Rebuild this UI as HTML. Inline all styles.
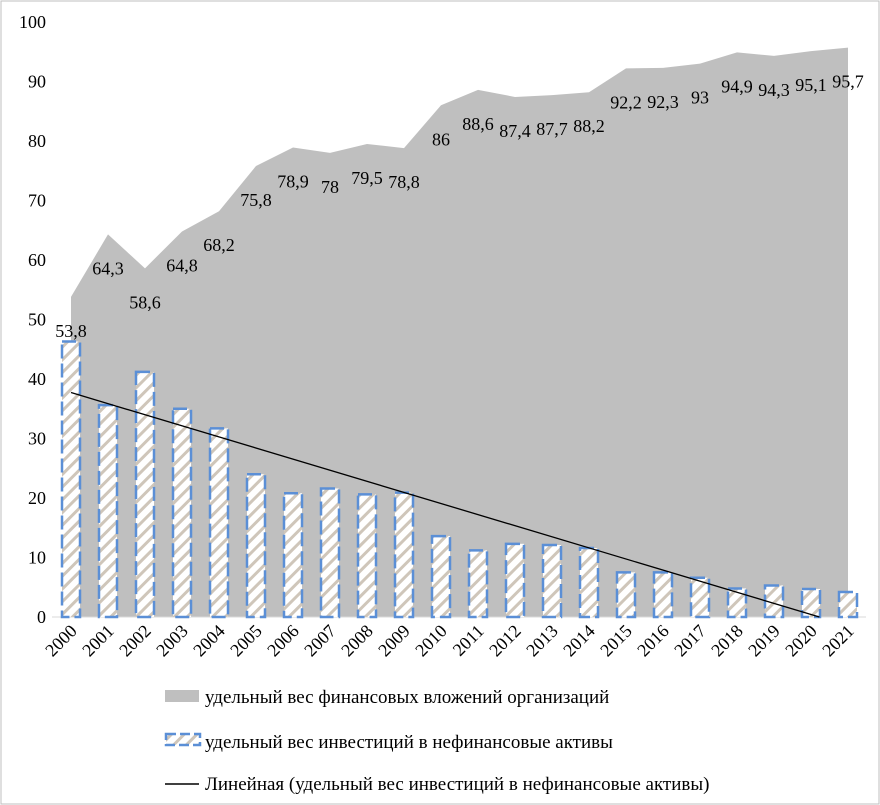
<!DOCTYPE html>
<html><head><meta charset="utf-8"><style>
body{margin:0;background:#fff;}
svg{display:block;font-family:"Liberation Serif",serif;}
</style></head><body>
<svg width="880" height="805" viewBox="0 0 880 805">
<defs>
<pattern id="hatch" patternUnits="userSpaceOnUse" width="9" height="9" patternTransform="rotate(45)">
<rect width="9" height="9" fill="#fff"/><rect width="3" height="9" fill="#cfc6ba"/>
</pattern>
</defs>
<rect x="1" y="1" width="878" height="803" fill="#fff" stroke="#bfbfbf"/>
<g id="plot"></g>
<g id="legend">
<rect x="165" y="690" width="34" height="12" fill="#bfbfbf"/>
<text x="205" y="703" font-size="19">удельный вес финансовых вложений организаций</text>
<rect x="166" y="734" width="34" height="11" fill="url(#hatch)" stroke="#5b8fd6" stroke-width="2.5" stroke-dasharray="10 4"/>
<text x="205" y="748" font-size="19">удельный вес инвестиций в нефинансовые активы</text>
<line x1="165" y1="784" x2="199" y2="784" stroke="#000" stroke-width="1.5"/>
<text x="205" y="790" font-size="19">Линейная (удельный вес инвестиций в нефинансовые активы)</text>
</g>
</svg>
<script>
const years=["2000","2001","2002","2003","2004","2005","2006","2007","2008","2009","2010","2011","2012","2013","2014","2015","2016","2017","2018","2019","2020","2021"];
const areaValues=[53.8,64.3,58.6,64.8,68.2,75.8,78.9,78,79.5,78.8,86,88.6,87.4,87.7,88.2,92.2,92.3,93,94.9,94.3,95.1,95.7];
const areaLabels=["53,8","64,3","58,6","64,8","68,2","75,8","78,9","78","79,5","78,8","86","88,6","87,4","87,7","88,2","92,2","92,3","93","94,9","94,3","95,1","95,7"];
const barValues=[46.3,35.6,41.2,35,31.7,24,20.8,21.6,20.6,20.9,13.6,11.2,12.3,12.1,11.6,7.5,7.5,6.6,4.8,5.3,4.7,4.2];
const yTicks=[0,10,20,30,40,50,60,70,80,90,100];
const NS="http://www.w3.org/2000/svg";
const g=document.getElementById("plot");
const x0=71,dx=37,yb=617,yt=22;
const X=i=>x0+i*dx;
const Y=v=>yb-(v/100)*(yb-yt);
function mk(t,a){const e=document.createElementNS(NS,t);for(const k in a)e.setAttribute(k,a[k]);g.appendChild(e);return e;}
let d="M"+X(0)+","+Y(0);
areaValues.forEach((v,i)=>{d+=" L"+X(i)+","+Y(v);});
d+=" L"+X(areaValues.length-1)+","+Y(0)+"Z";
const area=mk("path",{d:d,fill:"#bfbfbf"});


yTicks.forEach(t=>{const e=mk("text",{x:46,y:Y(t)+6,"font-size":18,"text-anchor":"end"});e.textContent=t;

});
const ax=mk("line",{x1:52,y1:yb,x2:866,y2:yb,stroke:"#d9d9d9"});


barValues.forEach((v,i)=>{const r=mk("rect",{x:X(i)-9,y:Y(v),width:18,height:yb-Y(v),fill:"url(#hatch)",stroke:"#5b8fd6","stroke-width":2.5,"stroke-dasharray":"14 5"});

});
const n=barValues.length;let sx=0,sy=0,sxx=0,sxy=0;
barValues.forEach((v,i)=>{sx+=i;sy+=v;sxx+=i*i;sxy+=i*v;});
const b=(n*sxy-sx*sy)/(n*sxx-sx*sx),a=(sy-b*sx)/n;
const iEnd=Math.min(n-1,-a/b);
const tl=mk("line",{x1:X(0),y1:Y(a),x2:X(iEnd),y2:Y(a+b*iEnd),stroke:"#000","stroke-width":1.3});


areaValues.forEach((v,i)=>{const e=mk("text",{x:X(i),y:Y(v)+40,"font-size":18,"text-anchor":"middle"});e.textContent=areaLabels[i];

});
years.forEach((yr,i)=>{const e=mk("text",{x:X(i)+7,y:632,"font-size":18,"text-anchor":"end",transform:"rotate(-45 "+(X(i)+7)+" 632)"});e.textContent=yr;

});
</script>
</body></html>
